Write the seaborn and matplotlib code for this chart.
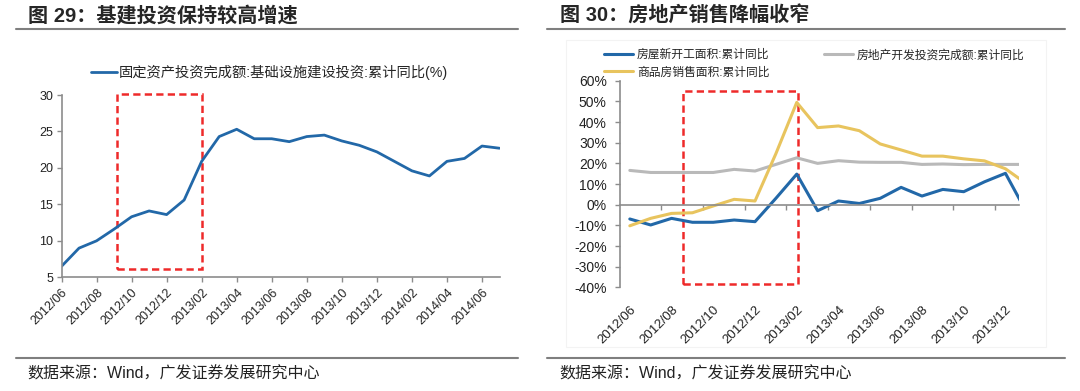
import numpy as np
import matplotlib
matplotlib.use("Agg")
import matplotlib.pyplot as plt
from matplotlib.patches import Rectangle
from matplotlib.lines import Line2D
from matplotlib.ticker import FuncFormatter
import seaborn as sns

# ---------------- data ----------------
months_l = ["2012/06", "2012/07", "2012/08", "2012/09", "2012/10", "2012/11", "2012/12",
            "2013/01", "2013/02", "2013/03", "2013/04", "2013/05", "2013/06", "2013/07",
            "2013/08", "2013/09", "2013/10", "2013/11", "2013/12", "2014/01", "2014/02",
            "2014/03", "2014/04", "2014/05", "2014/06", "2014/07"]
infra = [6.5, 9.0, 10.0, 11.6, 13.3, 14.1, 13.6, 15.6, 20.9, 24.3, 25.3, 24.0, 24.0,
         23.6, 24.3, 24.5, 23.7, 23.1, 22.2, 20.9, 19.6, 18.9, 20.9, 21.3, 23.0, 22.7]

months_r = ["2012/06", "2012/07", "2012/08", "2012/09", "2012/10", "2012/11", "2012/12",
            "2013/01", "2013/02", "2013/03", "2013/04", "2013/05", "2013/06", "2013/07",
            "2013/08", "2013/09", "2013/10", "2013/11", "2013/12", "2014/01"]
new_start = [-6.9, -9.8, -6.6, -8.5, -8.5, -7.4, -8.2, 3.1, 14.8, -2.9, 1.8, 0.6, 3.1,
             8.4, 4.2, 7.4, 6.3, 11.1, 15.2, -3.4]
invest = [16.6, 15.6, 15.6, 15.6, 15.6, 17.1, 16.3, 19.5, 22.7, 20.0, 21.3, 20.6, 20.5,
          20.5, 19.5, 19.7, 19.4, 19.5, 19.5, 19.5]
sales = [-10.2, -6.6, -4.2, -3.9, -0.6, 2.6, 1.8, 24.7, 49.5, 37.3, 38.1, 35.8, 29.4,
         26.5, 23.5, 23.5, 22.2, 21.2, 17.4, 10.2]

label_infra = "固定资产投资完成额:基础设施建设投资:累计同比(%)"
label_new = "房屋新开工面积:累计同比"
label_inv = "房地产开发投资完成额:累计同比"
label_sales = "商品房销售面积:累计同比"

BLUE = "#2268a8"
GRAY = "#b9b9b9"
YELLOW = "#e8c45e"
RED = "#ee2a2a"
AXC = "#8c8c8c"

sns.set_style("white")
plt.rcParams["font.family"] = ["Liberation Sans", "Noto Sans CJK SC"]
plt.rcParams["axes.unicode_minus"] = False

W, H = 1080, 391
fig = plt.figure(figsize=(10.8, 3.91), dpi=100)


def fx(px):
    return px / W


def fy(py):
    return 1 - py / H


# ---------------- frame: titles, rules, sources ----------------
fig.text(fx(28), fy(15.5), "图 29：基建投资保持较高增速", fontsize=14.5, fontweight="bold", va="center")
fig.text(fx(560), fy(15.5), "图 30：房地产销售降幅收窄", fontsize=14.5, fontweight="bold", va="center")
for x0, x1 in [(15.5, 518), (547, 1065)]:
    fig.add_artist(Line2D([fx(x0), fx(x1)], [fy(29.3)] * 2, color="#7f7f7f", lw=1.5))
    fig.add_artist(Line2D([fx(x0), fx(x1)], [fy(357.7)] * 2, color="#7f7f7f", lw=1.5))
fig.text(fx(27), fy(374), "数据来源：Wind，广发证券发展研究中心", fontsize=11.5, va="center", color="#222222")
fig.text(fx(559), fy(374), "数据来源：Wind，广发证券发展研究中心", fontsize=11.5, va="center", color="#222222")
fig.add_artist(Rectangle((fx(566), fy(346.7)), fx(1046 - 566), (346.7 - 39.6) / H, fill=False,
                         ec="#f3f3f3", lw=0.8, transform=fig.transFigure))

# ---------------- left chart ----------------
axL = fig.add_axes([fx(61.5), fy(277.3), fx(438), 182.3 / H])
xl = np.arange(len(months_l))
sns.lineplot(x=xl, y=infra, ax=axL, color=BLUE, lw=2.0, label=label_infra)
axL.set_xlim(0, len(months_l) - 1)
axL.set_ylim(5, 30)
axL.set_yticks(range(5, 31, 5))
axL.set_xticks(xl[::2], labels=months_l[::2])
sns.despine(ax=axL)
for s in ["left", "bottom"]:
    axL.spines[s].set_color(AXC)
    axL.spines[s].set_linewidth(1.2)
axL.tick_params(axis="both", direction="out", length=3.5, width=1, color=AXC,
                labelsize=9, labelcolor="#222222", bottom=True, left=True)
axL.tick_params(axis="x", pad=3)
axL.tick_params(axis="y", pad=2.5)
plt.setp(axL.get_xticklabels(), rotation=45, ha="right", rotation_mode="anchor")
axL.add_patch(Rectangle((3.14, 6.1), 8.03 - 3.14, 30.1 - 6.1, fill=False, ec=RED, lw=1.8,
                        ls=(0, (2.9, 1.7)), clip_on=False))
axL.legend(loc="center left", bbox_to_anchor=(fx(91.3), fy(72.3)), bbox_transform=fig.transFigure,
           frameon=False, fontsize=10.3, handlelength=1.8, handletextpad=0.15, borderpad=0,
           borderaxespad=0)

# ---------------- right chart ----------------
axR = fig.add_axes([fx(620), fy(287.4), fx(399), 206.7 / H])
xr = np.arange(len(months_r))
sns.lineplot(x=xr, y=new_start, ax=axR, color=BLUE, lw=2.2, label=label_new)
sns.lineplot(x=xr, y=invest, ax=axR, color=GRAY, lw=2.2, label=label_inv)
sns.lineplot(x=xr, y=sales, ax=axR, color=YELLOW, lw=2.2, label=label_sales)
axR.set_xlim(-0.47, 18.65)
axR.set_ylim(-40, 60)
axR.set_yticks(range(-40, 61, 10))
axR.yaxis.set_major_formatter(FuncFormatter(lambda v, p: "%d%%" % v))
sns.despine(ax=axR)
axR.spines["bottom"].set_position(("data", 0))
for s in ["left", "bottom"]:
    axR.spines[s].set_color(AXC)
    axR.spines[s].set_linewidth(1.2)
axR.set_xticks(np.arange(1.5, 18, 2))
axR.tick_params(axis="x", direction="out", length=3.5, width=1, color=AXC, bottom=True, labelbottom=False)
axR.tick_params(axis="y", direction="out", length=3.5, width=1, color=AXC, left=True,
                labelsize=10, labelcolor="#222222", pad=6)
sec = axR.secondary_xaxis("bottom")
sec.set_xticks(xr[0:19:2], labels=months_r[0:19:2])
sec.spines["bottom"].set_visible(False)
sec.tick_params(length=0, pad=12, labelsize=9.5, labelcolor="#222222")
plt.setp(sec.get_xticklabels(), rotation=45, ha="right", rotation_mode="anchor")
axR.add_patch(Rectangle((2.55, -38.5), 8.04 - 2.55, 55.2 + 38.5, fill=False, ec=RED, lw=1.8,
                        ls=(0, (2.9, 1.7)), clip_on=False))
hs, ls_ = axR.get_legend_handles_labels()
order = [0, 2, 1]
axR.legend([hs[i] for i in order], [ls_[i] for i in order], ncol=2, loc="center left",
           bbox_to_anchor=(fx(603.7), fy(63.8)), bbox_transform=fig.transFigure, frameon=False,
           fontsize=8.5, handlelength=2.5, handletextpad=0.3, borderpad=0, borderaxespad=0,
           columnspacing=4.6, labelspacing=0.45)

fig.savefig("out.png", dpi=100)
